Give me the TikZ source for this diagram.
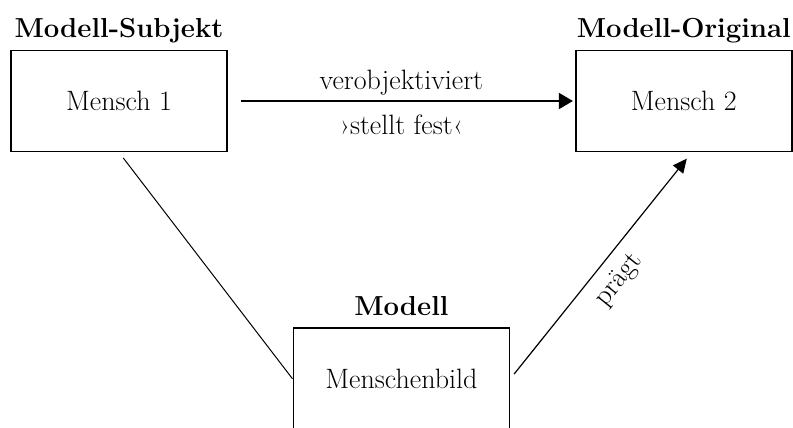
\documentclass[tikz,border=0pt]{standalone}
\usepackage{fontspec}
\usetikzlibrary{positioning,arrows.meta,calc}

\begin{document}
\begin{tikzpicture}[x=1pt,y=1pt]
	\tikzset{BoxStyle/.style =
		{draw,
			line width = 1.8pt,
			minimum width = 216pt,
			minimum height = 101pt,
			font = \fontsize{28}{32}\selectfont},
		TitleStyle/.style =
		{font = \fontsize{27.5}{32}\selectfont\bfseries,
			anchor = base},
		EdgeLabel/.style = {font = \fontsize{28}{32}\selectfont}}
	\useasboundingbox (0,0) rectangle (793,-428);
	\node[BoxStyle] (M1) at (119,-101) {Mensch 1};
	\node[BoxStyle, right=347pt of M1] (M2) {Mensch 2};
	\coordinate (Mid) at ($(M1.south)!0.5!(M2.south)$);
	\node[BoxStyle, below=175pt of Mid] (M3) {Menschenbild};
	\node[above=12pt of M1.north, TitleStyle] (T1) {Modell-Subjekt};
	\node[above=12pt of M2.north, TitleStyle] (T2) {Modell-Original};
	\node[above=12pt of M3.north, TitleStyle] (T3) {Modell};
	% Kanten
	\draw[line width=1.8pt, -{Triangle[length=14pt,width=16pt]},
		shorten <=13pt, shorten >=2pt] (M1) --
		node[above=2pt, EdgeLabel] {verobjektiviert}
		node[below=10pt, EdgeLabel] {›stellt fest‹} (M2);
	\draw[line width=1pt, shorten <=7pt] (M1.south) -- (M3.west);
	\draw[line width=1.2pt, -{Triangle[length=14pt,width=13pt]},
		shorten <=6pt, shorten >=8pt] (M3.east) --
		node[sloped, below=8pt, EdgeLabel] {prägt} ([xshift=8pt]M2.south);
\end{tikzpicture}
\end{document}
